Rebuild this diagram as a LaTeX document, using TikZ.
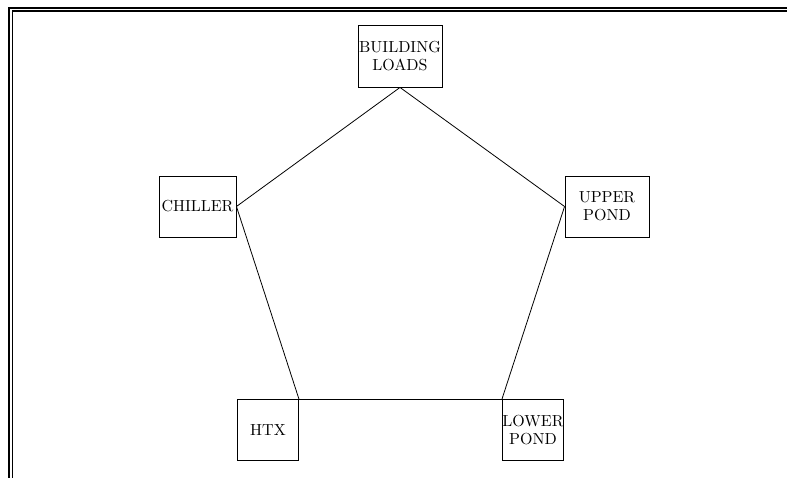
\documentclass[tikz,border=0pt]{standalone}
\font\unitfont=cmr10 at 16pt
\begin{document}
\begin{tikzpicture}[x=1pt,y=-1pt,
  unit/.style={draw=black, line width=0.9pt, rectangle, inner sep=0pt, align=center,
    font={\unitfont\baselineskip=18pt}},
  link/.style={draw=black, line width=0.8pt}]
\useasboundingbox (0,0) rectangle (787,478);
% frame
\draw[line width=2pt] (9.2,478) -- (9.2,7.7) -- (787,7.7);
\draw[line width=1.3pt] (12.6,478) -- (12.6,11) -- (787,11);
% nodes
\node[unit, minimum width=84pt, minimum height=62pt] (bl) at (400,56) {BUILDING\\LOADS};
\node[unit, minimum width=77pt, minimum height=61pt] (ch) at (197.5,206.5) {CHILLER};
\node[unit, minimum width=84pt, minimum height=61pt] (up) at (607,206.5) {UPPER\\POND};
\node[unit, minimum width=61pt, minimum height=61pt] (htx) at (268,430) {HTX};
\node[unit, minimum width=61pt, minimum height=61pt] (lp) at (533,430) {LOWER\\POND};
% connectors
\draw[link] (bl.south) -- (ch.east);
\draw[link] (bl.south) -- (up.west);
\draw[link] (ch.east) -- (htx.north east);
\draw[link] (up.west) -- (lp.north west);
\draw[link] (htx.north east) -- (lp.north west);
\end{tikzpicture}
\end{document}
